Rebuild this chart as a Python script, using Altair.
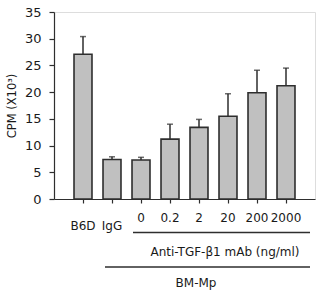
import altair as alt
import pandas as pd

categories = ["B6D", "IgG", "0", "0.2", "2", "20", "200", "2000"]
means = [27.1, 7.4, 7.3, 11.2, 13.4, 15.5, 19.9, 21.2]
errors = [3.3, 0.5, 0.5, 2.8, 1.5, 4.2, 4.2, 3.3]
group_dose = [False, False, True, True, True, True, True, True]
y_ticks = [0, 5, 10, 15, 20, 25, 30, 35]

df = pd.DataFrame({"cat": categories, "mean": means, "err": errors, "dose": group_dose})
df["top"] = df["mean"] + df["err"]

FONT = "DejaVu Sans"
DARK = "#2e2e2e"
TXT = "#1a1a1a"

xscale = alt.Scale(domain=categories, paddingInner=0.38, paddingOuter=0.69)
xaxis = alt.Axis(title=None, labels=False, domainColor=DARK, tickColor=DARK,
                 tickSize=4, domainWidth=1.2, tickWidth=1.2)
yscale = alt.Scale(domain=[0, 35], nice=False)
yaxis = alt.Axis(title="CPM (X10³)", values=y_ticks, grid=False, labelOverlap=False,
                 labelFlush=False,
                 domainColor=DARK, tickColor=DARK, tickSize=5, domainWidth=1.2,
                 tickWidth=1.2, labelFont=FONT, labelFontSize=13, labelColor=TXT,
                 labelPadding=8, titleFont=FONT, titleFontSize=11.5,
                 titleFontWeight="normal", titleColor=TXT, titlePadding=7)


def X():
    return alt.X("cat:N", scale=xscale, sort=categories, axis=xaxis)


bars = alt.Chart(df).mark_bar(color="#c0c0c0", stroke=DARK, strokeWidth=1.6).encode(
    x=X(),
    y=alt.Y("mean:Q", scale=yscale, axis=yaxis),
)

rules = alt.Chart(df).mark_rule(color=DARK, strokeWidth=1.5).encode(
    x=X(),
    y=alt.Y("mean:Q", scale=yscale, axis=yaxis),
    y2="top:Q",
)

caps = alt.Chart(df).mark_tick(color=DARK, size=6, thickness=1.5, orient="horizontal").encode(
    x=X(),
    y=alt.Y("top:Q", scale=yscale, axis=yaxis),
)

labels_dose = alt.Chart(df).transform_filter("datum.dose").mark_text(
    font=FONT, fontSize=12, color=TXT, baseline="middle").encode(
    x=X(),
    y=alt.value(205.5),
    text="cat:N",
)
labels_ctrl = alt.Chart(df).transform_filter("!datum.dose").mark_text(
    font=FONT, fontSize=12, color=TXT, baseline="middle").encode(
    x=X(),
    y=alt.value(214),
    text="cat:N",
)

line_df = pd.DataFrame({"k": ["a"]})
line1 = alt.Chart(line_df).mark_rule(color=DARK, strokeWidth=1.5).encode(
    x=alt.value(79), x2=alt.value(256), y=alt.value(220.5))
line2 = alt.Chart(line_df).mark_rule(color=DARK, strokeWidth=1.5).encode(
    x=alt.value(51), x2=alt.value(256), y=alt.value(255))
text1 = alt.Chart(line_df).mark_text(font=FONT, fontSize=12, color=TXT, baseline="middle").encode(
    x=alt.value(171), y=alt.value(240), text=alt.value("Anti-TGF-β1 mAb (ng/ml)"))
text2 = alt.Chart(line_df).mark_text(font=FONT, fontSize=12, color=TXT, baseline="middle").encode(
    x=alt.value(142), y=alt.value(271), text=alt.value("BM-Mp"))

chart = alt.layer(bars, rules, caps, labels_dose, labels_ctrl, line1, line2, text1, text2).properties(
    width=261, height=187,
    autosize=alt.AutoSizeParams(type="none"),
    padding={"left": 54, "top": 12, "right": 1, "bottom": 94},
).configure_view(stroke=None).configure(background="white")

chart.save("out.html", embed_options={"renderer": "svg", "actions": False})
